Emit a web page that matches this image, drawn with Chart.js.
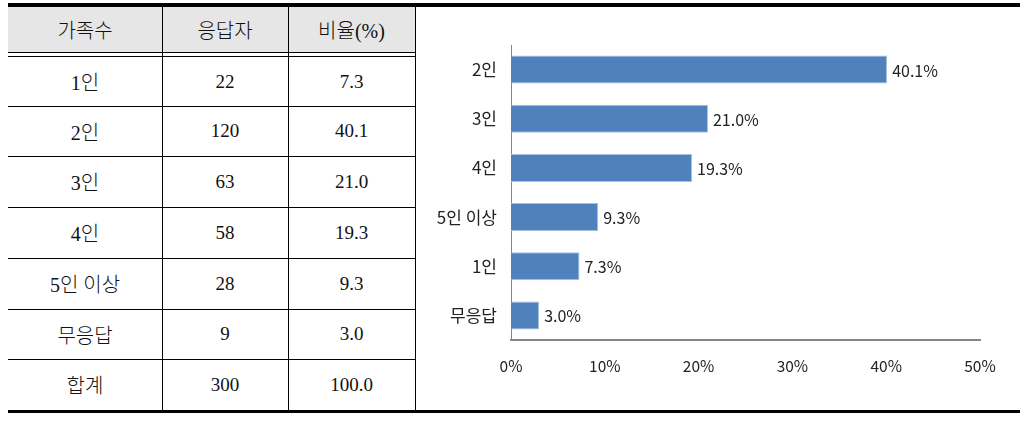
<!DOCTYPE html>
<html>
<head>
<meta charset="utf-8">
<script src="https://cdn.jsdelivr.net/npm/chart.js@4/dist/chart.umd.min.js"></script>
<style>
  body { margin: 0; background: #fff; width: 1020px; height: 426px; position: relative; overflow: hidden; }
  .ln { position: absolute; background: #000; }
  .cell { position: absolute; display: flex; align-items: center; justify-content: center;
          font-family: "Liberation Serif", "Noto Sans CJK KR", serif; font-size: 19px; color: #111; }
  #chartBox { position: absolute; left: 416px; top: 7px; width: 604px; height: 402px; }
</style>
</head>
<body>
<div id="table"></div>
<div id="chartBox"><canvas id="barChart"></canvas></div>
<script>
// ------------------------------
// Data
// ------------------------------
const tableHeaders = ["가족수", "응답자", "비율(%)"];
const familySizes = ["1인", "2인", "3인", "4인", "5인 이상", "무응답"];
const respondents = [22, 120, 63, 58, 28, 9];
const ratios = [7.3, 40.1, 21.0, 19.3, 9.3, 3.0];
const totalRow = ["합계", 300, 100.0];

// chart order (sorted, no-answer last)
const chartCategories = ["2인", "3인", "4인", "5인 이상", "1인", "무응답"];
const chartValues = [40.1, 21.0, 19.3, 9.3, 7.3, 3.0];
const xTicks = [0, 10, 20, 30, 40, 50];

// ------------------------------
// Table (absolute layout)
// ------------------------------
const table = document.getElementById("table");
const colEdges = [8, 162, 288, 415];
const rowEdges = [57, 106, 156, 207, 258, 309, 359, 410];

function line(x, y, w, h, color) {
  const d = document.createElement("div");
  d.className = "ln";
  d.style.cssText = `left:${x}px;top:${y}px;width:${w}px;height:${h}px;` + (color ? `background:${color};` : "");
  table.appendChild(d);
}
function cell(text, col, top, bottom, isKorean) {
  const d = document.createElement("div");
  d.className = "cell";
  d.style.left = colEdges[col] + "px";
  d.style.width = (colEdges[col + 1] - colEdges[col]) + "px";
  d.style.top = top + "px";
  d.style.height = (bottom - top) + "px";
  if (isKorean) { d.style.fontSize = "20px"; d.style.fontWeight = "300"; }
  d.textContent = text;
  table.appendChild(d);
}

// header background
line(8, 7, 407, 45, "#e6e6e6");
tableHeaders.forEach((h, i) => cell(h, i, 7, 52, true));

const rows = familySizes.map((f, i) => [f, respondents[i], ratios[i].toFixed(1)]);
rows.push([totalRow[0], totalRow[1], totalRow[2].toFixed(1)]);
rows.forEach((r, i) => {
  cell(r[0], 0, rowEdges[i], rowEdges[i + 1], true);
  cell(String(r[1]), 1, rowEdges[i], rowEdges[i + 1]);
  cell(String(r[2]), 2, rowEdges[i], rowEdges[i + 1]);
});

// rules
line(8, 3, 1012, 4);
line(8, 52, 407, 1);
line(8, 56, 407, 1);
rowEdges.slice(1, -1).forEach(y => line(8, y, 407, 1));
line(8, 410, 1012, 3);
[162, 288, 415].forEach(x => line(x, 7, 1, 403));

// ------------------------------
// Bar chart
// ------------------------------
const FONT = '"Noto Sans CJK KR", "Noto Sans", sans-serif';

const valueLabels = {
  id: "valueLabels",
  afterDatasetsDraw(chart) {
    const { ctx } = chart;
    const meta = chart.getDatasetMeta(0);
    ctx.save();
    ctx.font = `16px ${FONT}`;
    ctx.fillStyle = "#222";
    ctx.textAlign = "left";
    ctx.textBaseline = "middle";
    meta.data.forEach((bar, i) => {
      ctx.fillText(chartValues[i].toFixed(1) + "%", bar.x + 5, bar.y + 1);
    });
    ctx.restore();
  }
};

new Chart(document.getElementById("barChart"), {
  type: "bar",
  data: {
    labels: chartCategories,
    datasets: [{
      data: chartValues,
      backgroundColor: "#4f81bd",
      borderColor: "#a9c1de",
      borderWidth: 1,
      borderSkipped: "left",
      categoryPercentage: 1,
      barPercentage: 0.57
    }]
  },
  options: {
    indexAxis: "y",
    responsive: true,
    maintainAspectRatio: false,
    animation: false,
    layout: { padding: { left: 0, top: 38, right: 40, bottom: 0 } },
    plugins: { legend: { display: false }, tooltip: { enabled: false } },
    scales: {
      x: {
        min: 0, max: 50,
        afterBuildTicks: s => { s.ticks = xTicks.map(v => ({ value: v })); },
        afterFit: s => { s.height = 69; },
        grid: { display: false, drawTicks: false },
        border: { display: true, color: "#868686", width: 2 },
        ticks: { padding: 17, color: "#222", font: { family: FONT, size: 15.5 }, callback: v => v + "%" }
      },
      y: {
        afterFit: s => { s.width = 95; },
        grid: { display: false, drawTicks: false },
        border: { display: true, color: "#868686", width: 1 },
        ticks: { padding: 14, color: "#222", font: { family: FONT, size: 17 } }
      }
    }
  },
  plugins: [valueLabels]
});
</script>
</body>
</html>
